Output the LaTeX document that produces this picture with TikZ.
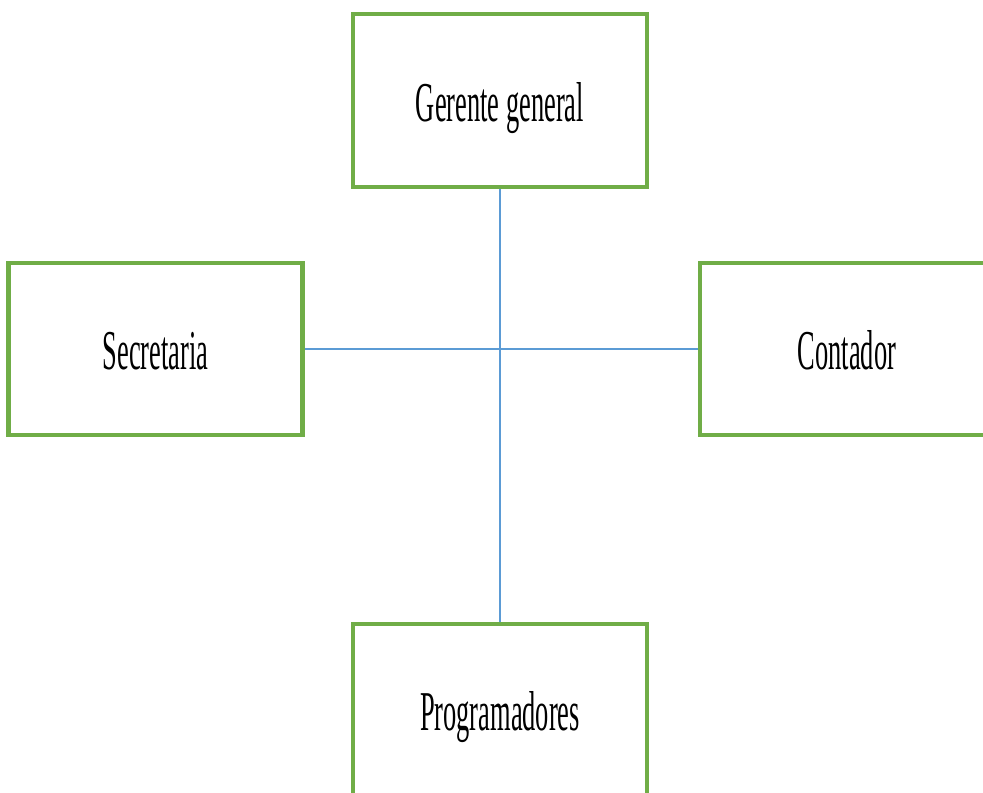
\documentclass[tikz,border=0pt]{standalone}
\usepackage{fontspec}
\newfontfamily\orgfont[FakeStretch=0.47]{Liberation Serif}
\definecolor{BoxGreen}{RGB}{112,173,71}
\definecolor{LineBlue}{RGB}{91,155,213}
\begin{document}
\begin{tikzpicture}[
    box/.style={draw=BoxGreen, line width=2.3pt, fill=white, minimum width=5.88cm, minimum height=3.45cm, text height=0.84cm, text depth=0pt, align=center, font=\orgfont\fontsize{32}{36}\selectfont},
    link/.style={draw=LineBlue, line width=1.1pt}
  ]
    \useasboundingbox (-10,6.98) rectangle (9.66,-8.88);

    % Puestos
    \node[box] (gerente) at (0,4.97) {Gerente general};
    \node[box] (secretaria) at (-6.89,0) {Secretaria};
    \node[box] (contador) at (6.94,0) {Contador};
    \node[box] (programadores) at (0,-7.22) {Programadores};

    % Lineas
    \draw[link] (gerente.south) -- (programadores.north);
    \draw[link] (secretaria.east) -- (contador.west);
  \end{tikzpicture}
\end{document}
